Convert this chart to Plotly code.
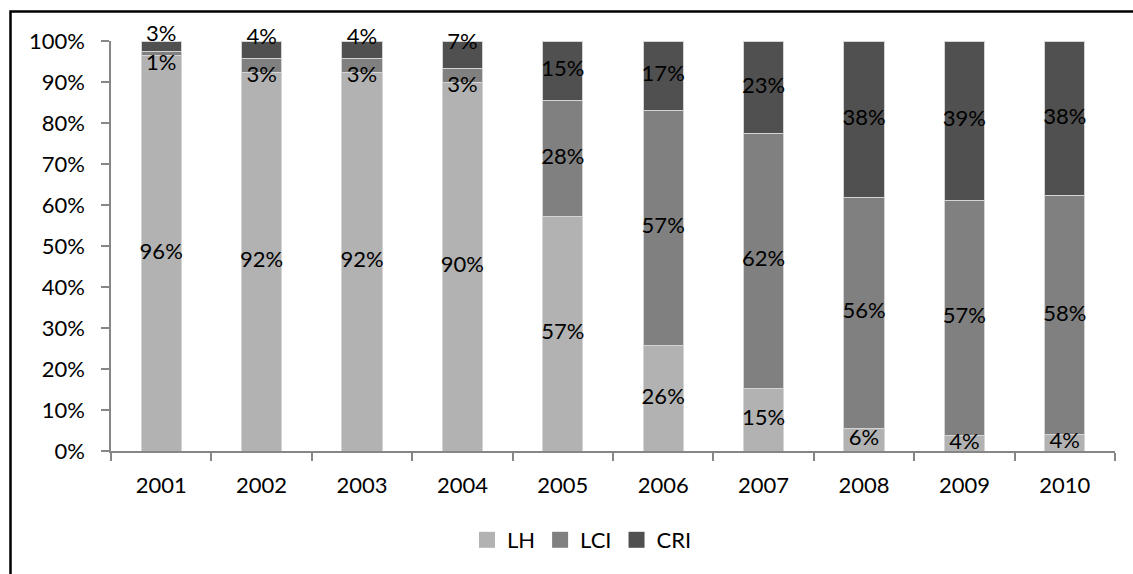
import plotly.graph_objects as go

years = ["2001", "2002", "2003", "2004", "2005", "2006", "2007", "2008", "2009", "2010"]
lh = [96.4, 92.4, 92.3, 90.0, 57.2, 25.8, 15.3, 5.6, 3.8, 4.0]
lci = [1.0, 3.3, 3.4, 3.3, 28.2, 57.3, 62.1, 56.2, 57.3, 58.3]
cri = [2.6, 4.3, 4.3, 6.7, 14.6, 16.9, 22.6, 38.2, 38.9, 37.7]

series = [("LH", lh, "#b2b2b2"), ("LCI", lci, "#808080"), ("CRI", cri, "#505050")]

FONT = "Lato"
FS = 22
W, H = 1133, 574
ML, MR, MT, MB = 111, 18, 41, 123
PW, PH = W - ML - MR, H - MT - MB

fig = go.Figure()
for name, vals, col in series:
    fig.add_trace(go.Bar(
        x=years, y=vals, name=name, showlegend=False,
        marker=dict(color=col, line=dict(color="#d4d4d4", width=1)),
        hoverinfo="x+y+name",
    ))

# data labels
base = [0.0] * len(years)
for name, vals, col in series:
    mids = [b + v / 2 for b, v in zip(base, vals)]
    if name == "LCI":
        pos = ["bottom center" if v < 10 else "middle center" for v in vals]
    elif name == "CRI":
        pos = ["top center" if v < 10 else "middle center" for v in vals]
    else:
        pos = ["middle center"] * len(vals)
    fig.add_trace(go.Scatter(
        x=years, y=mids, mode="text",
        text=[f"{round(v)}%" for v in vals],
        textposition=pos,
        textfont=dict(family=FONT, size=FS, color="#000000"),
        showlegend=False, hoverinfo="skip", cliponaxis=False,
    ))
    base = [b + v for b, v in zip(base, vals)]

# legend entries (square swatches)
for name, vals, col in series:
    fig.add_trace(go.Scatter(
        x=[None], y=[None], mode="markers", name=name,
        marker=dict(symbol="square", size=16, color=col),
        showlegend=True, hoverinfo="skip",
    ))

axis_col = "#868686"
fig.update_layout(
    width=W, height=H,
    margin=dict(l=ML, r=MR, t=MT, b=MB, pad=0),
    paper_bgcolor="white", plot_bgcolor="white",
    barmode="stack", bargap=0.6,
    font=dict(family=FONT, size=FS, color="#000000"),
    showlegend=True,
    legend=dict(orientation="h", x=(582 - ML) / PW, xanchor="center",
                y=(H - MB - 540) / PH, yanchor="middle",
                font=dict(family=FONT, size=FS, color="#000000"),
                itemwidth=30, traceorder="normal"),
    xaxis=dict(type="category", tickson="boundaries", ticks="outside", ticklen=8,
               tickcolor=axis_col, tickwidth=1.5, showline=True, linecolor=axis_col,
               linewidth=1.5, showgrid=False, zeroline=False,
               tickfont=dict(family=FONT, size=FS, color="#000000"),
               ticklabelstandoff=14),
    yaxis=dict(range=[0, 100], dtick=10, ticksuffix="%", ticks="outside", ticklen=8,
               tickcolor=axis_col, tickwidth=1.5, showline=True, linecolor=axis_col,
               linewidth=1.5, showgrid=False, zeroline=False,
               tickfont=dict(family=FONT, size=FS, color="#000000"),
               ticklabelstandoff=12),
    shapes=[dict(type="rect", xref="paper", yref="paper",
                 x0=(10.5 - ML) / PW, x1=1.5,
                 y0=-1.0, y1=(H - MB - 11.5) / PH,
                 line=dict(color="#000000", width=2.5), fillcolor="rgba(0,0,0,0)",
                 layer="above")],
)

fig.write_html("out.html")
